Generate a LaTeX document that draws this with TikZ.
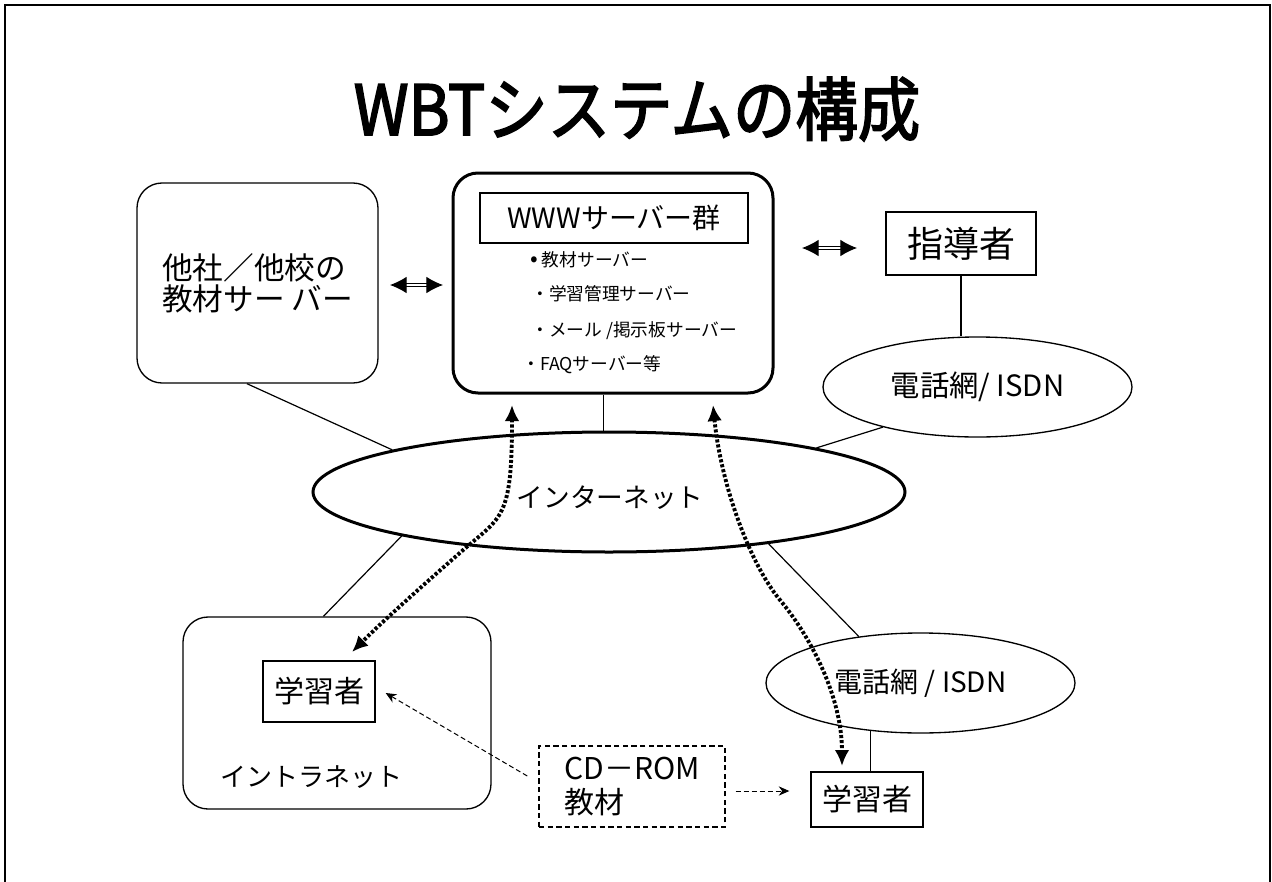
\documentclass[tikz,border=0pt]{standalone}
\usepackage{fontspec}
\setmainfont{Noto Sans CJK JP}
\newfontfamily\titlefont{Noto Sans CJK JP}[FakeStretch=0.9, FakeBold=2.4]
\usetikzlibrary{arrows.meta,shapes.geometric,calc}
\begin{document}
\begin{tikzpicture}[x=0.75pt,y=-0.75pt,
  box/.style={draw, line width=1pt, inner sep=0pt},
  rbox/.style={box, rounded corners=18.75pt},
  ell/.style={draw, ellipse, inner sep=0pt, line width=1pt},
  conn/.style={line width=0.9pt},
  dotarrow/.style={line width=2.9pt, dash pattern=on 2.3pt off 1.5pt,
     {Latex[length=12pt,width=11pt]}-{Latex[length=12pt,width=11pt]}},
  cdarrow/.style={line width=0.75pt, dash pattern=on 3.75pt off 2.25pt,
     -{Stealth[length=8pt,width=7pt]}},
  dashbox/.style={draw, line width=1.1pt, dash pattern=on 4pt off 2.5pt, inner sep=0pt},
  dbl/.style={double, double distance=1.8pt, line width=0.75pt,
     {Latex[length=12.5pt,width=12.5pt]}-{Latex[length=12.5pt,width=12.5pt]}},
  item/.style={anchor=west, inner sep=0pt, font=\fontsize{13.3}{13.3}\selectfont}
]
\useasboundingbox (0,0) rectangle (1272,882);
\draw[line width=1.9pt] (5,882) -- (5,5) -- (1270,5) -- (1270,882);

\node[font=\titlefont\fontsize{52}{60}\selectfont] (title) at (637,109) {WBTシステムの構成};

\node[rbox, minimum width=180.75pt, minimum height=150pt, align=left,
      font=\fontsize{23}{23}\selectfont] (other) at (257.5,283) {他社／他校の\\教材サー バー};

\node[rbox, line width=2.25pt, minimum width=240pt, minimum height=165pt] (www) at (613,283) {};
\node[box, minimum width=201pt, minimum height=37.5pt, font=\fontsize{21}{21}\selectfont] (wwwt) at (614,218) {WWWサーバー群};
\node[item] (s1) at (530,260) {{\fontsize{17}{17}\selectfont•} 教材サーバー};
\node[item] (s2) at (531,294) {・学習管理サーバー};
\node[item] (s3) at (531,331) {・メール /掲示板サーバー};
\node[item] (s4) at (522,365) {・FAQサーバー等};

\node[box, minimum width=112.5pt, minimum height=47.25pt, font=\fontsize{27}{27}\selectfont] (lead) at (961,243.5) {指導者};
\node[ell, minimum width=231.75pt, minimum height=75pt, font=\fontsize{22}{22}\selectfont] (tel1) at (977.5,387) {電話網/ ISDN};

\node[ell, line width=2.25pt, minimum width=444pt, minimum height=90pt] (inet) at (609,492) {};
\node[font=\fontsize{20}{20}\selectfont] (inettext) at (610,498) {インターネット};

\node[rbox, minimum width=231pt, minimum height=144pt] (intra) at (337,713) {};
\node[box, minimum width=84pt, minimum height=45.75pt, font=\fontsize{22.5}{22.5}\selectfont] (learn1) at (319,691.5) {学習者};
\node[font=\fontsize{19.5}{19.5}\selectfont] (intratext) at (311.5,777) {イントラネット};

\node[ell, minimum width=231.75pt, minimum height=75pt, font=\fontsize{21}{21}\selectfont] (tel2) at (920.5,683) {電話網 / ISDN};
\node[box, minimum width=84pt, minimum height=41.25pt, font=\fontsize{22.5}{22.5}\selectfont] (learn2) at (867,799.5) {学習者};
\node[dashbox, minimum width=139.5pt, minimum height=60.75pt, align=left,
      font=\fontsize{22.5}{26}\selectfont] (cd) at (632,786.5) {CD－ROM\\教材};

% connectors
\draw[conn] (other.264) -- (inet.169.2);
\draw[conn] (www.265.3) -- (www.265.3 |- inet.north);
\draw[conn] (lead.south) -- (lead.south |- tel1.north);
\draw[conn] (tel1.203.5) -- (inet.12);
\draw[conn] (inet.192.9) -- (intra.98.1);
\draw[conn] (inet.342.7) -- (tel2.143.5);
\draw[conn] (tel2.224.4) -- (tel2.224.4 |- learn2.north);

% double arrows
\coordinate (a1s) at (390,285); \coordinate (a1e) at (443,285);
\coordinate (a2s) at (802,248); \coordinate (a2e) at (857,248);
\draw[dbl] (a1s) -- (a1e);
\draw[dbl] (a2s) -- (a2e);

% dotted arrows
\coordinate (d1s) at (512,405); \coordinate (d1m) at (462,551); \coordinate (d1e) at (352,652);
\draw[dotarrow] (d1s) .. controls +(0,115) and +(40,-35) .. (d1m) .. controls +(-40,35) and +(30,-30) .. (d1e);
\coordinate (d2s) at (713,405); \coordinate (d2m) at (780,600); \coordinate (d2e) at (842,766);
\draw[dotarrow] (d2s) .. controls +(8,80) and +(-30,-36) .. (d2m) .. controls +(30,36) and +(0,-70) .. (d2e);

% CD-ROM arrows
\draw[cdarrow] ($(cd.east)+(10,4.5)$) -- ($(learn2.west)+(-21,-8.5)$);
\draw[cdarrow] ($(cd.west)+(-11,-10.5)$) -- ($(learn1.east)+(10,1.5)$);
\end{tikzpicture}
\end{document}
